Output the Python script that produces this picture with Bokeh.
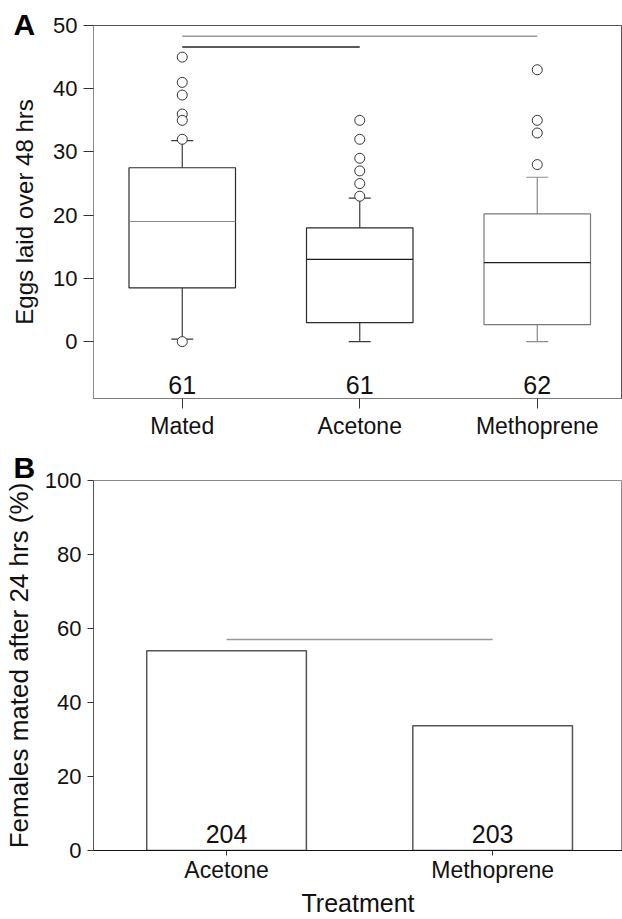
from bokeh.plotting import figure
from bokeh.layouts import column
from bokeh.models import FixedTicker, Range1d, Title
from bokeh.core.properties import value
from bokeh.embed import file_html
from bokeh.resources import INLINE

# ---------------- data: panel A (box plot) ----------------
groups_a = ["Mated", "Acetone", "Methoprene"]
n_a = ["61", "61", "62"]
q1 = [8.5, 3.0, 2.7]
median = [19.0, 13.0, 12.5]
q3 = [27.5, 18.0, 20.2]
whisker_low = [0.4, 0.0, 0.0]
whisker_high = [31.8, 22.7, 26.0]
outliers_mated = [45, 41, 39, 36, 35, 32, 0]
outliers_acetone = [35, 32, 29, 27, 25, 23]
outliers_methoprene = [43, 35, 33, 28]
sig_a_from = ["Mated", "Mated"]
sig_a_to = ["Methoprene", "Acetone"]
sig_a_y = [48.3, 46.6]
yticks_a = [0, 10, 20, 30, 40, 50]

# ---------------- data: panel B (bar chart) ----------------
groups_b = ["Acetone", "Methoprene"]
pct_mated = [54.0, 33.7]
n_b = ["204", "203"]
sig_b_from = ["Acetone"]
sig_b_to = ["Methoprene"]
sig_b_y = [57.0]
yticks_b = [0, 20, 40, 60, 80, 100]

FONT = "Liberation Sans"
TXT = "#111111"
W = 622
LEFT = 93
FRAME_W = W - LEFT


def style_axes(p, tick_len):
    for ax in p.axis:
        ax.major_label_text_font = FONT
        ax.major_label_text_color = TXT
        ax.axis_label_text_font = FONT
        ax.axis_label_text_font_size = "24px"
        ax.axis_label_text_font_style = "normal"
        ax.axis_label_text_color = TXT
        ax.major_tick_out = tick_len
        ax.major_tick_in = 0
        ax.minor_tick_line_color = None
        ax.major_tick_line_color = "#333333"
    p.xaxis.major_label_text_font_size = "23px"
    p.yaxis.major_label_text_font_size = "22px"
    p.xgrid.visible = False
    p.ygrid.visible = False


def panel_letter(p, letter, standoff):
    p.title = Title(text=letter, align="left", offset=-80, standoff=standoff,
                    vertical_align="bottom", text_font=FONT, text_font_size="30px",
                    text_font_style="bold", text_color="#000000")


# ---------------- panel A ----------------
xa = [i + 1 for i in range(len(groups_a))]
px_per_a = 177.5
pa = figure(width=W, height=441,
            x_range=Range1d(0.5, 0.5 + FRAME_W / px_per_a), y_range=Range1d(-9, 50),
            output_backend="svg", toolbar_location=None,
            min_border_left=LEFT, min_border_right=0, min_border_top=25, min_border_bottom=43)
style_axes(pa, 10)
pa.outline_line_color = "#555555"
pa.xaxis.ticker = FixedTicker(ticks=xa)
pa.xaxis.major_label_overrides = {x: g for x, g in zip(xa, groups_a)}
pa.yaxis.ticker = FixedTicker(ticks=yticks_a)
pa.yaxis.axis_label = "Eggs laid over 48 hrs"
pa.yaxis.axis_line_color = "#8a8a8a"
pa.xaxis.axis_line_color = "#7a7a7a"
pa.yaxis.major_label_standoff = 6
pa.xaxis.major_label_standoff = 4
pa.yaxis.axis_label_standoff = 12
panel_letter(pa, "A", -31)

box_line = ["#2a2a2a", "#2a2a2a", "#7a7a7a"]
med_line = ["#8c8c8c", "#1a1a1a", "#1a1a1a"]
wh_line = ["#3a3a3a", "#3a3a3a", "#8a8a8a"]
cap = 11 / px_per_a
half = 0.3

pa.segment(x0=xa, y0=q3, x1=xa, y1=whisker_high, line_color=wh_line, line_width=1.2)
pa.segment(x0=xa, y0=q1, x1=xa, y1=whisker_low, line_color=wh_line, line_width=1.2)
pa.segment(x0=[x - cap for x in xa], y0=whisker_high, x1=[x + cap for x in xa], y1=whisker_high,
           line_color=wh_line, line_width=1.2)
pa.segment(x0=[x - cap for x in xa], y0=whisker_low, x1=[x + cap for x in xa], y1=whisker_low,
           line_color=wh_line, line_width=1.2)
pa.quad(left=[x - half for x in xa], right=[x + half for x in xa], bottom=q1, top=q3,
        fill_color="white", line_color=box_line, line_width=1.2)
pa.segment(x0=[x - half for x in xa], y0=median, x1=[x + half for x in xa], y1=median,
           line_color=med_line, line_width=1.2)

for g, vals in zip(groups_a, [outliers_mated, outliers_acetone, outliers_methoprene]):
    x = xa[groups_a.index(g)]
    pa.scatter(x=[x] * len(vals), y=vals, marker="circle", size=10,
               fill_color="white", line_color="#333333", line_width=1)

sig_col_a = ["#999999", "#222222"]
pa.segment(x0=[xa[groups_a.index(g)] for g in sig_a_from], y0=sig_a_y,
           x1=[xa[groups_a.index(g)] for g in sig_a_to], y1=sig_a_y,
           line_color=sig_col_a, line_width=1.5)

pa.text(x=xa, y=[-6.8] * len(xa), text=n_a, text_align="center", text_baseline="middle",
        text_font=value(FONT), text_font_size="25px", text_color=TXT)

# ---------------- panel B ----------------
xb = [i + 1 for i in range(len(groups_b))]
px_per_b = 266.1
pb = figure(width=W, height=478,
            x_range=Range1d(0.5, 0.5 + FRAME_W / px_per_b), y_range=Range1d(0, 100),
            output_backend="svg", toolbar_location=None,
            min_border_left=LEFT, min_border_right=0, min_border_top=39, min_border_bottom=68)
style_axes(pb, 6)
pb.outline_line_color = "#8a8a8a"
pb.xaxis.major_tick_out = 5
pb.xaxis.ticker = FixedTicker(ticks=xb)
pb.xaxis.major_label_overrides = {x: g for x, g in zip(xb, groups_b)}
pb.yaxis.ticker = FixedTicker(ticks=yticks_b)
pb.yaxis.axis_label = "Females mated after 24 hrs (%)"
pb.yaxis.axis_label_text_font_size = "26px"
pb.xaxis.axis_label = "Treatment"
pb.xaxis.axis_label_text_font_size = "25px"
pb.yaxis.axis_line_color = "#555555"
pb.xaxis.axis_line_color = "#111111"
pb.yaxis.major_label_standoff = 6
pb.xaxis.major_label_standoff = 1
pb.yaxis.axis_label_standoff = 8
pb.xaxis.axis_label_standoff = 3
panel_letter(pb, "B", -7)

pb.vbar(x=xb, bottom=0, top=pct_mated, width=0.6, fill_color="white",
        line_color="#555555", line_width=1.5)
pb.segment(x0=[xb[groups_b.index(g)] for g in sig_b_from], y0=sig_b_y,
           x1=[xb[groups_b.index(g)] for g in sig_b_to], y1=sig_b_y,
           line_color="#999999", line_width=1.5)
pb.text(x=xb, y=[4.4] * len(xb), text=n_b, text_align="center", text_baseline="middle",
        text_font=value(FONT), text_font_size="25px", text_color=TXT)

layout = column(pa, pb, spacing=0)
open("out.html", "w").write(file_html(layout, INLINE))
